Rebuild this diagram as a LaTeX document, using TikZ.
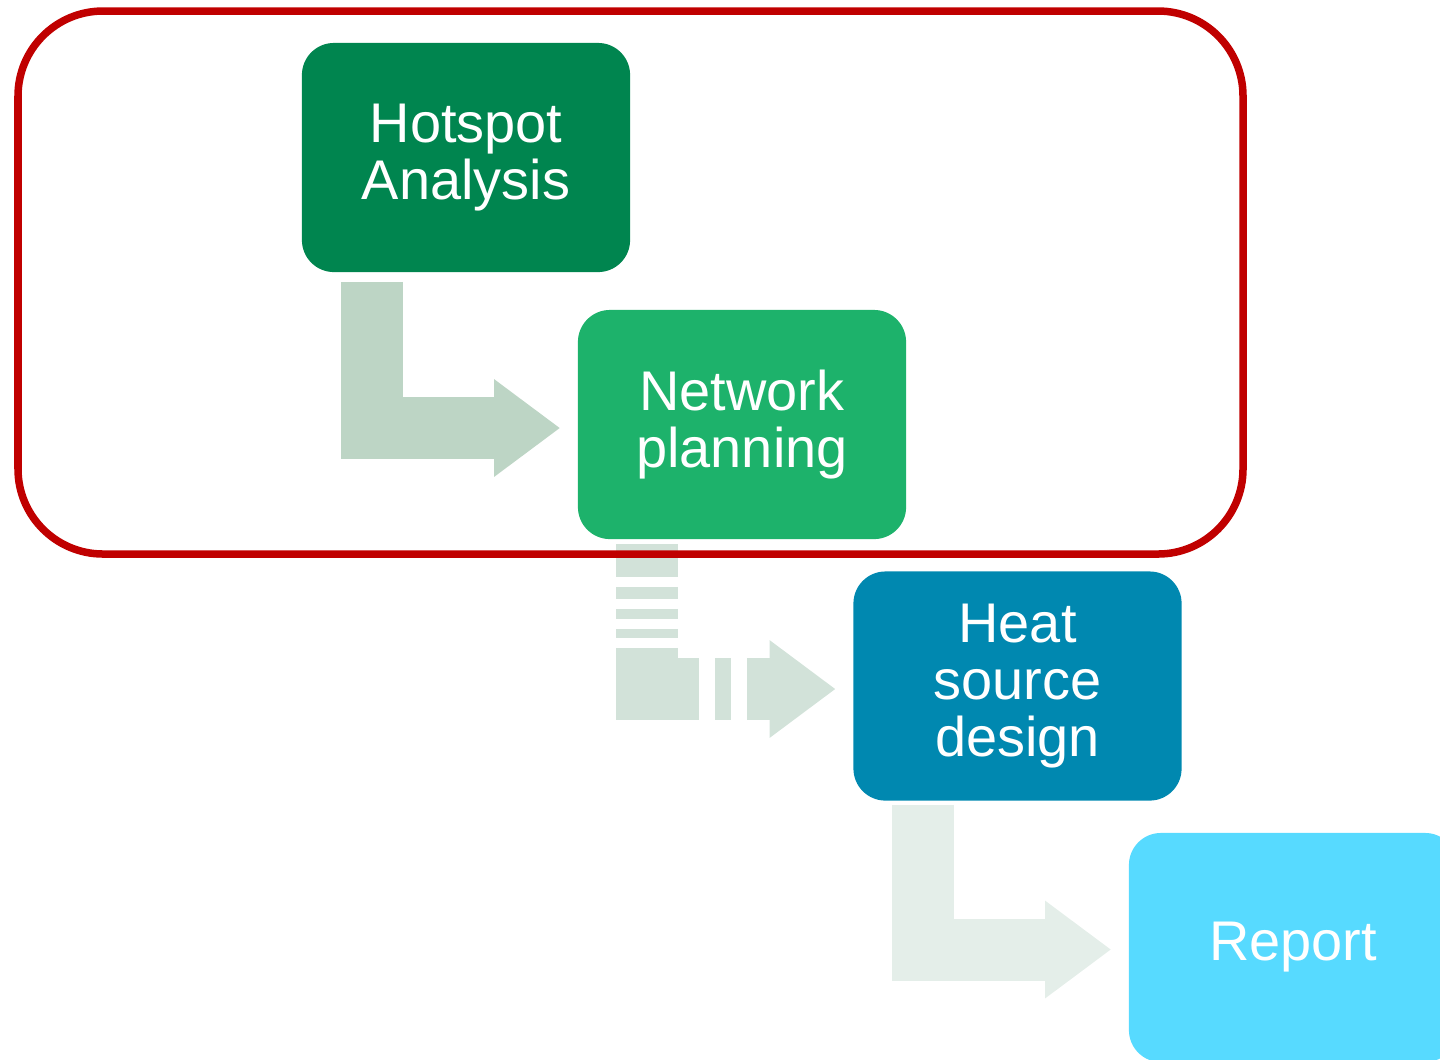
\documentclass[tikz,border=0pt]{standalone}
\usepackage{fontspec}
\setmainfont{Liberation Sans}
\usepackage{tikz}
\usetikzlibrary{positioning, calc, arrows.meta}

\definecolor{hotgreen}{HTML}{00854F}
\definecolor{netgreen}{HTML}{1DB26B}
\definecolor{heatblue}{HTML}{0088B0}
\definecolor{reportblue}{HTML}{57DAFF}
\definecolor{framered}{HTML}{C00000}
\definecolor{flowA}{HTML}{BDD5C5}
\definecolor{flowB}{HTML}{D2E2D9}
\definecolor{flowC}{HTML}{E4EEE9}

\begin{document}
\begin{tikzpicture}[x=0.01cm, y=-0.01cm,
    stepbox/.style={rectangle, rounded corners=0.32cm, minimum width=3.28cm,
        minimum height=2.29cm, text=white, align=center, inner sep=0pt,
        font=\fontsize{15.9}{16.3}\selectfont},
    flow/.style={line width=0.62cm, line join=miter, line cap=butt,
        -{Triangle[length=0.66cm, width=0.93cm]}}]

    \useasboundingbox (0,0) rectangle (1440,1059);

    % ================= Steps =================
    \node[stepbox, fill=hotgreen] (hot) at (466,157.5) {Hotspot\\Analysis};
    \node[stepbox, fill=netgreen] (net) at (742,424.5) {Network\\planning};
    \node[stepbox, fill=heatblue] (heat) at (1017.5,686) {Heat\\source\\design};
    \node[stepbox, fill=reportblue] (report) at (1293,947.5) {Report};

    % ================= Arrows =================
    \draw[flow, draw=flowA]
        ([xshift=-0.94cm, yshift=-0.09cm]hot.south) |- ([xshift=-0.17cm, yshift=-0.035cm]net.west);
    \draw[flow, draw=flowB,
        dash pattern=on 0.33cm off 0.1cm on 0.12cm off 0.1cm on 0.1cm off 0.1cm
        on 0.09cm off 0.1cm on 0.93cm off 0.16cm on 0.16cm off 0.16cm on 2cm]
        ([xshift=-0.95cm, yshift=-0.04cm]net.south) |- ([xshift=-0.17cm, yshift=-0.03cm]heat.west);
    \draw[flow, draw=flowC]
        ([xshift=-0.945cm, yshift=-0.04cm]heat.south) |- ([xshift=-0.17cm, yshift=-0.02cm]report.west);

    % ================= Group frame =================
    \draw[framered, line width=0.075cm, rounded corners=0.85cm] (18,11) rectangle (1243,554);

\end{tikzpicture}
\end{document}
